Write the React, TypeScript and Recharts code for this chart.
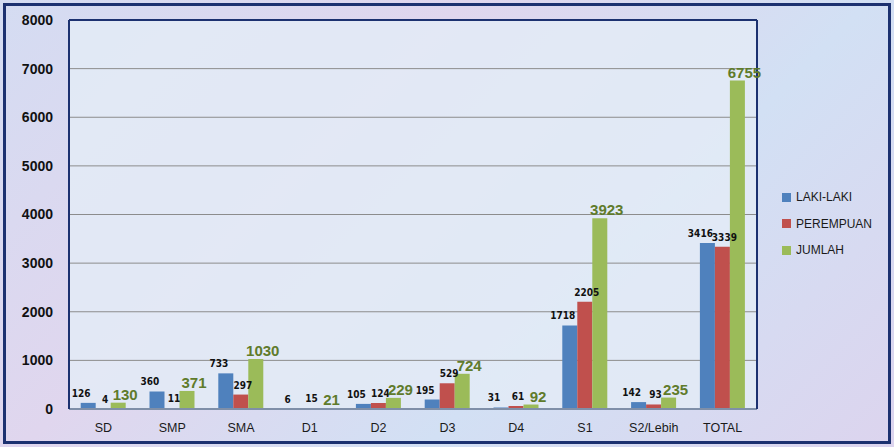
import { BarChart, Bar, XAxis, YAxis, CartesianGrid, LabelList, ReferenceLine } from 'recharts';

const categories = ['SD', 'SMP', 'SMA', 'D1', 'D2', 'D3', 'D4', 'S1', 'S2/Lebih', 'TOTAL'];
const lakiLaki = [126, 360, 733, 6, 105, 195, 31, 1718, 142, 3416];
const perempuan = [4, 11, 297, 15, 124, 529, 61, 2205, 93, 3339];
const jumlah = [130, 371, 1030, 21, 229, 724, 92, 3923, 235, 6755];
const yTicks = [0, 1000, 2000, 3000, 4000, 5000, 6000, 7000, 8000];

const series = [
  { key: 'laki', name: 'LAKI-LAKI', color: '#4F81BD', dx: -7 },
  { key: 'perempuan', name: 'PEREMPUAN', color: '#C0504D', dx: 2 },
  { key: 'jumlah', name: 'JUMLAH', color: '#9BBB59', dx: 7 },
];

const data = categories.map((c, i) => ({
  name: c,
  laki: lakiLaki[i],
  perempuan: perempuan[i],
  jumlah: jumlah[i],
}));

const FONT = '"Liberation Sans", Arial, sans-serif';
const NARROW = '"Liberation Sans Narrow", "DejaVu Sans Condensed", "Liberation Sans", sans-serif';

function LegendBox() {
  return (
    <div style={{ fontFamily: FONT, fontSize: 12, color: '#1a1a1a' }}>
      {series.map((s) => (
        <div key={s.key} style={{ display: 'flex', alignItems: 'center', height: 26.5 }}>
          <span style={{ width: 9, height: 9, background: s.color, marginRight: 5, display: 'inline-block' }} />
          {s.name}
        </div>
      ))}
    </div>
  );
}

export default function App() {
  return (
    <div
      style={{
        position: 'absolute',
        left: 0,
        top: 0,
        width: 894,
        height: 447,
        background: 'linear-gradient(135deg, #d4dcf2 0%, #e0d6ee 35%, #d2e0f4 65%, #dcd4ee 100%)',
        overflow: 'hidden',
      }}
    >
      <div
        style={{
          position: 'absolute',
          left: 3,
          top: 3,
          right: 3,
          bottom: 3,
          border: '3px solid #1C3170',
        }}
      />
      <div style={{ position: 'absolute', left: 0, top: 0 }}>
        <BarChart
          width={894}
          height={447}
          data={data}
          margin={{ top: 20, right: 136, bottom: 8, left: 0 }}
          barCategoryGap="17%"
          barGap={0}
        >
          <CartesianGrid vertical={false} stroke="#8c8c8c" fill="#e3ebf6" fillOpacity={0.85} />
          <XAxis
            dataKey="name"
            height={30}
            tick={{ fontSize: 12.5, fill: '#1a1a1a', fontFamily: FONT }}
            tickLine={false}
            axisLine={{ stroke: '#7f8fa8', strokeWidth: 2 }}
            interval={0}
            tickMargin={8}
          />
          <YAxis
            domain={[0, 8000]}
            ticks={yTicks}
            width={69}
            tick={{ fontSize: 14, fontWeight: 'bold', fill: '#111', fontFamily: FONT }}
            tickLine={false}
            tickMargin={10}
            axisLine={{ stroke: '#1C3170', strokeWidth: 2 }}
          />
          <YAxis
            yAxisId="right"
            orientation="right"
            domain={[0, 8000]}
            width={1}
            tick={false}
            tickLine={false}
            axisLine={{ stroke: '#1C3170', strokeWidth: 2 }}
          />
          <ReferenceLine y={8000} stroke="#1C3170" strokeWidth={2} />
          {series.map((s) => (
            <Bar key={s.key} dataKey={s.key} name={s.name} fill={s.color} isAnimationActive={false}>
              <LabelList
                dataKey={s.key}
                position="top"
                offset={s.key === 'jumlah' ? 3 : 6}
                style={
                  s.key === 'jumlah'
                    ? { fontSize: 15, fontWeight: 'bold', fill: '#5F7B2B', fontFamily: FONT }
                    : { fontSize: 10, fontWeight: 'bold', fill: '#111', fontFamily: NARROW }
                }
                dx={s.dx}
              />
            </Bar>
          ))}
        </BarChart>
      </div>
      <div style={{ position: 'absolute', left: 782, top: 184 }}>
        <LegendBox />
      </div>
    </div>
  );
}
